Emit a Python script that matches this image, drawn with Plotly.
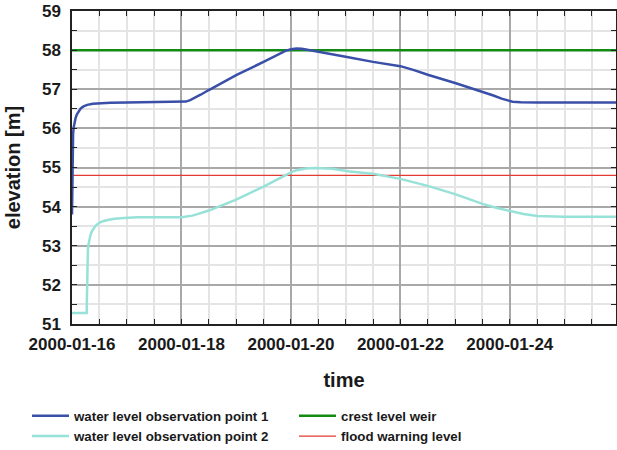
import pandas as pd
import plotly.graph_objects as go

# ---- data ----
start = "2000-01-16 00:00"
end_days = 9.94

obs1_days = [0.000, 0.004, 0.008, 0.013, 0.020, 0.030, 0.045, 0.065, 0.090, 0.12, 0.16, 0.21,
             0.28, 0.38, 0.50, 0.70, 1.00, 2.00, 2.08, 2.16, 2.25, 2.35, 2.50, 3.00, 3.50,
             3.80, 3.90, 4.00, 4.10, 4.20, 4.35, 4.50, 5.00, 5.50, 5.75, 6.00, 6.25, 6.50,
             7.00, 7.50, 7.70, 7.85, 7.95, 8.05, 8.20, 8.50, 9.94]
obs1_level = [53.80, 54.50, 55.20, 55.60, 55.85, 56.02, 56.15, 56.26, 56.36, 56.44, 56.51, 56.56,
              56.60, 56.63, 56.645, 56.655, 56.66, 56.67, 56.685, 56.72, 56.78, 56.86, 56.98, 57.36, 57.70,
              57.92, 57.98, 58.02, 58.04, 58.035, 58.00, 57.96, 57.83, 57.70, 57.645, 57.59, 57.49, 57.37,
              57.16, 56.94, 56.84, 56.76, 56.71, 56.68, 56.665, 56.66, 56.66]

obs2_days = [0.000, 0.268, 0.272, 0.277, 0.283, 0.290, 0.300, 0.315, 0.335, 0.360, 0.390, 0.43,
             0.48, 0.55, 0.65, 0.78, 0.95, 1.20, 2.00, 2.10, 2.20, 2.32, 2.50, 3.00, 3.50,
             3.80, 3.92, 4.02, 4.10, 4.20, 4.30, 4.45, 4.60, 4.75, 5.08, 5.50, 6.00, 6.50,
             7.00, 7.50, 7.75, 8.00, 8.25, 8.50, 8.75, 9.00, 9.94]
obs2_level = [51.28, 51.28, 51.60, 52.20, 52.65, 52.88, 53.02, 53.14, 53.26, 53.36, 53.44, 53.51,
              53.57, 53.62, 53.66, 53.69, 53.71, 53.73, 53.73, 53.745, 53.77, 53.82, 53.90, 54.18, 54.51,
              54.73, 54.82, 54.89, 54.93, 54.96, 54.98, 54.99, 54.985, 54.97, 54.90, 54.84, 54.71, 54.53,
              54.32, 54.07, 53.97, 53.89, 53.81, 53.76, 53.745, 53.74, 53.74]

crest_level = 58.0
flood_level = 54.8

names = ["water level observation point 1", "crest level weir",
         "water level observation point 2", "flood warning level"]
colors = ["#3a4fa8", "#138a13", "#97e2d8", "#e23b30"]

t0 = pd.Timestamp(start)
to_time = lambda days: [t0 + pd.Timedelta(days=d) for d in days]
t_end = t0 + pd.Timedelta(days=end_days)

fig = go.Figure()
fig.add_trace(go.Scatter(x=[t0, t_end], y=[crest_level, crest_level], mode="lines",
                         name=names[1], legendrank=2, line=dict(color=colors[1], width=2.5)))
fig.add_trace(go.Scatter(x=[t0, t_end], y=[flood_level, flood_level], mode="lines",
                         name=names[3], legendrank=4, line=dict(color=colors[3], width=1.2)))
fig.add_trace(go.Scatter(x=to_time(obs2_days), y=obs2_level, mode="lines",
                         name=names[2], legendrank=3, line=dict(color=colors[2], width=2.5)))
fig.add_trace(go.Scatter(x=to_time(obs1_days), y=obs1_level, mode="lines",
                         name=names[0], legendrank=1, line=dict(color=colors[0], width=2.5)))

font_family = "Liberation Sans, Arial, sans-serif"
axis_common = dict(
    showline=True, linecolor="#222", linewidth=1.5, mirror="allticks",
    ticks="inside", ticklen=5, tickcolor="#222", tickwidth=1,
    showgrid=True, gridcolor="#a8a8a8", gridwidth=1.5,
    zeroline=False, automargin=False,
    tickfont=dict(family=font_family, size=17, color="#1a1a1a", weight="bold"),
)

fig.update_xaxes(
    **axis_common,
    type="date", range=[t0, t_end],
    tick0=t0, dtick=2 * 86400000, tickformat="%Y-%m-%d",
    minor=dict(dtick=43200000, tick0=t0, ticks="inside", ticklen=5, tickcolor="#222",
               showgrid=True, gridcolor="#e4e4e4", gridwidth=1.5),
    title=dict(text="time", font=dict(family=font_family, size=20, color="#1a1a1a", weight="bold"),
               standoff=20),
    ticklabelstandoff=4,
)
fig.update_yaxes(
    **axis_common,
    range=[51, 59], dtick=1, tick0=51,
    minor=dict(dtick=0.5, ticks="inside", ticklen=5, tickcolor="#222",
               showgrid=True, gridcolor="#e4e4e4", gridwidth=1.5),
    title=dict(text="elevation [m]", font=dict(family=font_family, size=20, color="#1a1a1a", weight="bold"),
               standoff=16),
    ticklabelstandoff=6,
)

fig.update_layout(
    width=617, height=450,
    margin=dict(l=72, r=1, t=11, b=126, autoexpand=False),
    plot_bgcolor="white", paper_bgcolor="white",
    showlegend=True,
    legend=dict(orientation="h", x=-0.0827, xanchor="left", y=-0.245, yanchor="top",
                entrywidth=215, entrywidthmode="pixels", itemwidth=37,
                font=dict(family=font_family, size=13.3, color="#1a1a1a", weight="bold"),
                bgcolor="rgba(0,0,0,0)", tracegroupgap=0),
)

fig.write_html("out.html", config={"displayModeBar": False},
               post_script="document.body.style.margin='0px';")
